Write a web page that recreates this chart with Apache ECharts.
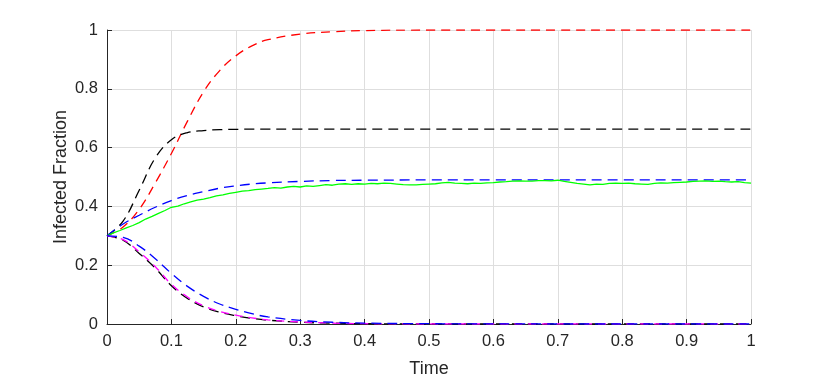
<!DOCTYPE html>
<html>
<head>
<meta charset="utf-8">
<script src="https://cdn.jsdelivr.net/npm/echarts@6/dist/echarts.min.js"></script>
<style>
  html, body { margin: 0; padding: 0; background: #fff; }
  #chart { width: 830px; height: 383px; }
</style>
</head>
<body>
<div id="chart"></div>
<script>
// time points for the smooth (dashed) curves
const tSmooth = [0, 0.025, 0.05, 0.075, 0.1, 0.125, 0.15, 0.175, 0.2, 0.225, 0.25, 0.3, 0.35, 0.4, 0.5, 0.6, 0.7, 0.8, 0.9, 1];

// rising curves
const redUp   = [0.3, 0.33, 0.39, 0.48, 0.58, 0.69, 0.79, 0.862, 0.912, 0.946, 0.967, 0.986, 0.994, 0.998, 1, 1, 1, 1, 1, 1];
const blackUp = [0.3, 0.35, 0.455, 0.565, 0.627, 0.651, 0.658, 0.661, 0.662, 0.663, 0.663, 0.663, 0.663, 0.663, 0.663, 0.663, 0.663, 0.663, 0.663, 0.663];
const blueUp  = [0.3, 0.34, 0.37, 0.397, 0.42, 0.437, 0.45, 0.462, 0.47, 0.476, 0.48, 0.485, 0.488, 0.489, 0.49, 0.49, 0.49, 0.49, 0.49, 0.49];

// decaying curves
const blackDown   = [0.3, 0.285, 0.24, 0.19, 0.13, 0.087, 0.058, 0.04, 0.028, 0.019, 0.013, 0.006, 0.003, 0.001, 0, 0, 0, 0, 0, 0];
const magentaDown = [0.3, 0.287, 0.245, 0.195, 0.135, 0.092, 0.062, 0.043, 0.03, 0.021, 0.014, 0.007, 0.003, 0.001, 0, 0, 0, 0, 0, 0];
const blueDown    = [0.3, 0.295, 0.265, 0.222, 0.172, 0.128, 0.094, 0.068, 0.05, 0.035, 0.024, 0.012, 0.006, 0.003, 0.001, 0.0005, 0, 0, 0, 0];

// simulated (noisy) curve, one value every 0.01
const tSim = Array.from({ length: 101 }, (_, i) => +(i * 0.01).toFixed(2));
const greenSim = [
  0.300, 0.310, 0.318, 0.327, 0.335, 0.345, 0.357, 0.366, 0.376, 0.386,
  0.397, 0.401, 0.409, 0.415, 0.421, 0.425, 0.430, 0.436, 0.439, 0.444,
  0.448, 0.452, 0.454, 0.457, 0.459, 0.461, 0.464, 0.462, 0.466, 0.468,
  0.466, 0.470, 0.468, 0.471, 0.474, 0.472, 0.476, 0.477, 0.475, 0.477,
  0.476, 0.478, 0.477, 0.479, 0.478, 0.476, 0.474, 0.473, 0.473, 0.475,
  0.476, 0.477, 0.480, 0.482, 0.479, 0.478, 0.477, 0.479, 0.478, 0.480,
  0.481, 0.483, 0.484, 0.486, 0.487, 0.486, 0.486, 0.488, 0.488, 0.487,
  0.489, 0.485, 0.482, 0.478, 0.476, 0.473, 0.476, 0.475, 0.478, 0.479,
  0.478, 0.479, 0.477, 0.476, 0.475, 0.478, 0.480, 0.479, 0.481, 0.482,
  0.483, 0.485, 0.486, 0.487, 0.485, 0.486, 0.484, 0.483, 0.484, 0.481,
  0.479
];

const xTicks = [0, 0.1, 0.2, 0.3, 0.4, 0.5, 0.6, 0.7, 0.8, 0.9, 1];
const yTicks = [0, 0.2, 0.4, 0.6, 0.8, 1];

const pair = (xs, ys) => xs.map((x, i) => [x, ys[i]]);

const dashed = (name, color, xs, ys, dash) => ({
  name,
  type: "line",
  data: pair(xs, ys),
  smooth: 0.4,
  showSymbol: false,
  symbol: "none",
  lineStyle: { color, width: 1.3, type: dash || [9, 6] },
  silent: true,
});

const chart = echarts.init(document.getElementById("chart"));
const font = "'Liberation Sans', Arial, sans-serif";

chart.setOption({
  animation: false,
  textStyle: { fontFamily: font },
  grid: { left: 107, right: 79, top: 30, bottom: 57 },
  xAxis: {
    type: "value",
    min: xTicks[0],
    max: xTicks[xTicks.length - 1],
    interval: 0.1,
    name: "Time",
    nameLocation: "middle",
    nameGap: 36,
    nameMoveOverlap: false,
    nameTextStyle: { color: "#262626", fontSize: 18, fontFamily: font },
    axisLine: { lineStyle: { color: "#262626", width: 1 } },
    axisTick: { inside: true, length: 5, lineStyle: { color: "#262626" } },
    axisLabel: { color: "#262626", fontSize: 16.5, margin: 9, fontFamily: font },
    splitLine: { show: true, lineStyle: { color: "#dedede", width: 1 } },
  },
  yAxis: {
    type: "value",
    min: yTicks[0],
    max: yTicks[yTicks.length - 1],
    interval: 0.2,
    name: "Infected Fraction",
    nameLocation: "middle",
    nameGap: 37,
    nameMoveOverlap: false,
    nameTextStyle: { color: "#262626", fontSize: 18, fontFamily: font },
    axisLine: { show: true, lineStyle: { color: "#262626", width: 1 } },
    axisTick: { show: true, inside: true, length: 5, lineStyle: { color: "#262626" } },
    axisLabel: { color: "#262626", fontSize: 16.5, margin: 9, fontFamily: font },
    splitLine: { show: true, lineStyle: { color: "#dedede", width: 1 } },
  },
  series: [
    dashed("red up", "#ff0000", tSmooth, redUp),
    dashed("black up", "#000000", tSmooth, blackUp, [10, 6]),
    dashed("blue up", "#0000ff", tSmooth, blueUp, [10, 6]),
    {
      name: "simulation",
      type: "line",
      data: pair(tSim, greenSim),
      showSymbol: false,
      symbol: "none",
      lineStyle: { color: "#00ff00", width: 1.3 },
      silent: true,
    },
    dashed("black down", "#000000", tSmooth, blackDown, [10, 6]),
    dashed("magenta down", "#ff00ff", tSmooth, magentaDown, [8, 6]),
    dashed("blue down", "#0000ff", tSmooth, blueDown, [10, 6]),
  ],
});
</script>
</body>
</html>
